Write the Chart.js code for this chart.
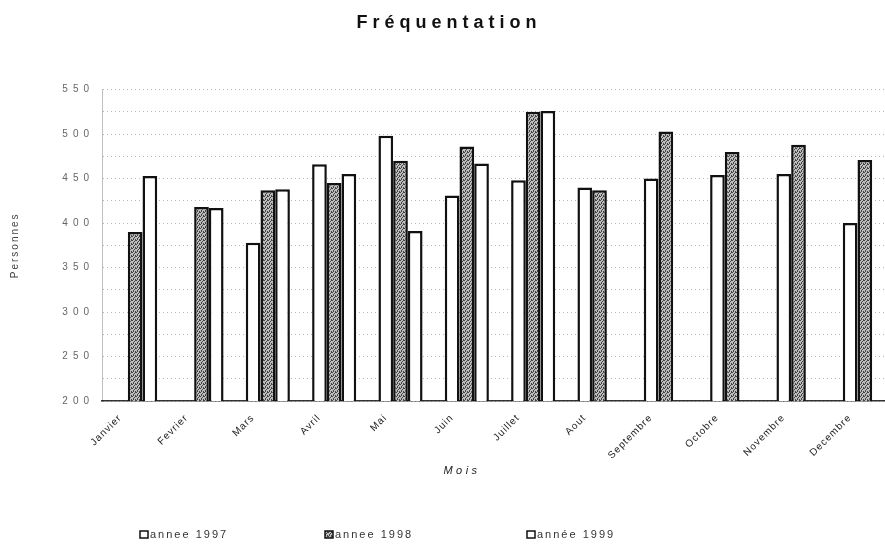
<!DOCTYPE html>
<html>
<head>
<meta charset="utf-8">
<script src="https://cdn.jsdelivr.net/npm/chart.js@4/dist/chart.umd.min.js"></script>
<style>
  html, body { margin: 0; padding: 0; background: #fff; overflow: hidden; }
  #wrap { width: 902px; height: 552px; }
</style>
</head>
<body>
<div id="wrap"><canvas id="freqChart" width="902" height="552"></canvas></div>
<script>
// Fréquentation par mois, 1997-1999
const months = ['Janvier', 'Fevrier', 'Mars', 'Avril', 'Mai', 'Juin', 'Juillet', 'Aout',
                'Septembre', 'Octobre', 'Novembre', 'Decembre'];
const yearLabels = ['annee 1997', 'annee 1998', 'année 1999'];
const values1997 = [null, null, 378, 466, 498, 431, 448, 440, 450, 454, 455, 400];
const values1998 = [390, 418, 437, 445, 470, 486, 525, 437, 503, 480, 488, 471];
const values1999 = [453, 417, 438, 455, 391, 467, 526, null, null, null, null, null];
const yMin = 200;
const yMax = 550;
const yStep = 25;
const yLabelStep = 50;

const FONT = "'Liberation Sans', Arial, sans-serif";

// grey stipple like the scanned bars
function makeStipple() {
  const c = document.createElement('canvas');
  c.width = 4; c.height = 4;
  const g = c.getContext('2d');
  g.fillStyle = '#bdbdbd';
  g.fillRect(0, 0, 4, 4);
  g.fillStyle = '#444';
  [[0, 0], [2, 1], [1, 2], [3, 3], [3, 0], [1, 3]].forEach(p => g.fillRect(p[0], p[1], 1, 1));
  return document.createElement('canvas').getContext('2d').createPattern(c, 'repeat');
}
const stipple = makeStipple();
const fills = ['#ffffff', stipple, '#ffffff'];

// canvas letterSpacing is not a Chart.js option, so wrap the draw calls
function spaced(obj, method, spacing) {
  const orig = obj[method];
  if (!orig || orig._spaced) return;
  const wrapped = function () {
    const ctx = this.ctx;
    const prev = ctx.letterSpacing;
    ctx.letterSpacing = spacing;
    orig.apply(this, arguments);
    ctx.letterSpacing = prev;
  };
  wrapped._spaced = true;
  obj[method] = wrapped;
}

const spacingPlugin = {
  id: 'spacing',
  afterLayout(chart) {
    spaced(chart.scales.y, 'drawLabels', '5px');
    spaced(chart.scales.y, 'drawTitle', '2px');
    spaced(chart.scales.x, 'drawLabels', '1px');
    if (chart.titleBlock) spaced(chart.titleBlock, 'draw', '5px');
  },
  afterDraw(chart) {
    const ctx = chart.ctx;
    ctx.save();
    // x axis title
    ctx.letterSpacing = '3.5px';
    ctx.fillStyle = '#222';
    ctx.font = 'italic 11px ' + FONT;
    ctx.textAlign = 'center';
    ctx.textBaseline = 'middle';
    ctx.fillText('Mois', 462, 471);
    // legend
    const legendX = [140, 325, 527];
    ctx.letterSpacing = '2px';
    ctx.font = '11px ' + FONT;
    ctx.textAlign = 'left';
    chart.data.datasets.forEach((ds, i) => {
      const x = legendX[i];
      ctx.fillStyle = ds.backgroundColor;
      ctx.fillRect(x, 531, 8, 7);
      ctx.lineWidth = 1.5;
      ctx.strokeStyle = '#111';
      ctx.strokeRect(x, 531, 8, 7);
      ctx.fillStyle = '#333';
      ctx.fillText(ds.label, x + 10, 535);
    });
    ctx.restore();
  }
};

const ctx = document.getElementById('freqChart').getContext('2d');
const freqChart = new Chart(ctx, {
  type: 'bar',
  data: {
    labels: months,
    datasets: [values1997, values1998, values1999].map((vals, i) => ({
      label: yearLabels[i],
      data: vals,
      backgroundColor: fills[i],
      borderColor: '#111',
      borderWidth: 2.5,
      categoryPercentage: 0.665,
      barPercentage: 1.0
    }))
  },
  options: {
    responsive: false,
    animation: false,
    devicePixelRatio: 1,
    layout: { padding: { left: 0, right: 4, top: 0, bottom: 0 } },
    plugins: {
      legend: { display: false },
      tooltip: { enabled: false },
      title: {
        display: true,
        text: 'Fréquentation',
        color: '#111',
        font: { family: FONT, size: 18, weight: 'bold' },
        padding: { top: 12, bottom: 56 }
      }
    },
    scales: {
      x: {
        grid: { display: false },
        border: { display: true, color: '#333', width: 1.5 },
        ticks: {
          color: '#222',
          font: { family: FONT, size: 10 },
          minRotation: 45,
          maxRotation: 45,
          labelOffset: -15,
          padding: 3
        },
        afterFit(scale) { scale.height = 151; }
      },
      y: {
        min: yMin,
        max: yMax,
        grid: { color: 'rgba(0,0,0,0.28)', lineWidth: 1, drawTicks: false },
        border: { display: true, color: 'rgba(0,0,0,0.25)', dash: [1, 3] },
        ticks: {
          stepSize: yStep,
          color: '#666',
          padding: 8,
          font: { family: FONT, size: 10 },
          callback: v => (v % yLabelStep === 0 ? v : '')
        },
        title: {
          display: true,
          text: 'Personnes',
          color: '#444',
          font: { family: FONT, size: 10 },
          padding: { top: 9, bottom: 0 }
        },
        afterFit(scale) { scale.width = 102; }
      }
    }
  },
  plugins: [spacingPlugin]
});
</script>
</body>
</html>
